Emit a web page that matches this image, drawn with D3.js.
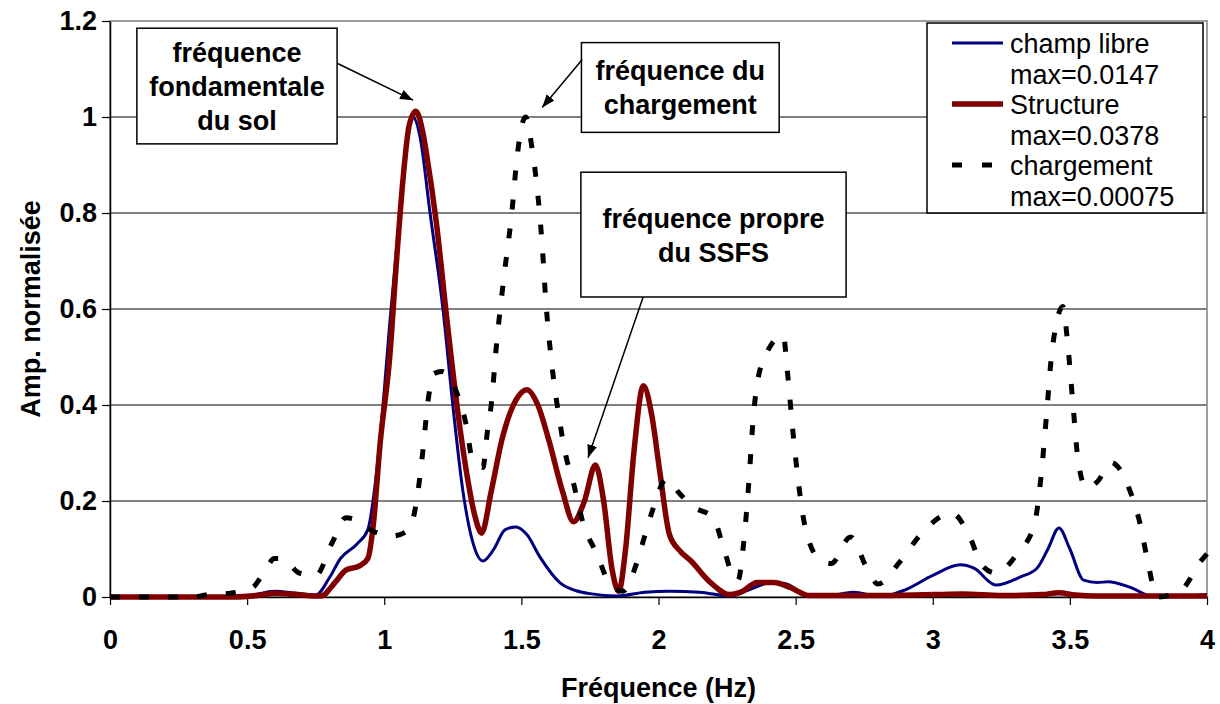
<!DOCTYPE html>
<html>
<head>
<meta charset="utf-8">
<script src="https://cdn.jsdelivr.net/npm/d3@7"></script>
<style>
    html, body { margin: 0; padding: 0; background: #ffffff; }
    svg text { font-family: 'Liberation Sans', Arial, sans-serif; fill: #000000; }
</style>
</head>
<body>
<svg id="spectrum-chart" width="1220" height="704"></svg>
<script>
/**
 * Tick values of both axes
 */
const xTicks = [0, 0.5, 1, 1.5, 2, 2.5, 3, 3.5, 4];
const yTicks = [0, 0.2, 0.4, 0.6, 0.8, 1, 1.2];

/**
 * Series names, as shown in the legend
 */
const seriesNames = ['champ libre', 'Structure', 'chargement'];
const seriesMax = ['max=0.0147', 'max=0.0378', 'max=0.00075'];

/**
 * champ libre (free field) - frequency (Hz) / normalised amplitude
 */
const champLibreFreq = [0, 0.4, 0.5, 0.6, 0.68, 0.75, 0.8, 0.84, 0.9, 0.94, 0.97, 1.0, 1.02, 1.057, 1.08, 1.105,
    1.13, 1.167, 1.214, 1.25, 1.287, 1.32, 1.36, 1.4, 1.44, 1.48, 1.52, 1.568, 1.64, 1.7, 1.75, 1.85, 1.95, 2.04,
    2.15, 2.26, 2.33, 2.41, 2.46, 2.55, 2.62, 2.71, 2.81, 2.9, 3.0, 3.1, 3.15, 3.23, 3.32, 3.38, 3.42, 3.46, 3.5,
    3.55, 3.6, 3.64, 3.72, 3.8, 3.9, 4.0];
const champLibreAmp = [0, 0, 0.002, 0.012, 0.008, 0.004, 0.04, 0.08, 0.11, 0.14, 0.25, 0.43, 0.57, 0.8, 0.93, 1.0,
    0.96, 0.8, 0.6, 0.4, 0.22, 0.12, 0.075, 0.1, 0.14, 0.146, 0.13, 0.083, 0.03, 0.013, 0.007, 0.002, 0.01, 0.012,
    0.01, 0.002, 0.015, 0.03, 0.028, 0.003, 0.003, 0.01, 0.001, 0.015, 0.045, 0.067, 0.06, 0.025, 0.042, 0.06, 0.1,
    0.144, 0.1, 0.035, 0.03, 0.032, 0.02, 0.002, 0.001, 0.005];

/**
 * Structure - frequency (Hz) / normalised amplitude
 */
const structureFreq = [0, 0.45, 0.55, 0.6, 0.68, 0.77, 0.82, 0.86, 0.91, 0.94, 0.96, 0.985, 1.02, 1.046, 1.07, 1.09,
    1.115, 1.14, 1.155, 1.19, 1.23, 1.265, 1.3, 1.33, 1.355, 1.39, 1.43, 1.48, 1.52, 1.56, 1.6, 1.65, 1.69, 1.73,
    1.77, 1.8, 1.83, 1.855, 1.88, 1.91, 1.945, 1.975, 2.005, 2.04, 2.08, 2.115, 2.19, 2.26, 2.3, 2.36, 2.42, 2.48,
    2.55, 2.8, 3.0, 3.11, 3.25, 3.4, 3.46, 3.52, 3.6, 4.0];
const structureAmp = [0, 0, 0.004, 0.008, 0.005, 0.002, 0.03, 0.056, 0.065, 0.08, 0.15, 0.32, 0.5, 0.71, 0.88, 0.98,
    1.012, 0.97, 0.92, 0.78, 0.57, 0.4, 0.26, 0.17, 0.133, 0.22, 0.33, 0.41, 0.432, 0.4, 0.327, 0.22, 0.157, 0.2,
    0.275, 0.2, 0.06, 0.012, 0.1, 0.3, 0.44, 0.38, 0.26, 0.13, 0.095, 0.077, 0.03, 0.005, 0.01, 0.03, 0.03, 0.02,
    0.003, 0.003, 0.005, 0.006, 0.003, 0.005, 0.009, 0.004, 0.002, 0.002];

/**
 * chargement (loading) - frequency (Hz) / normalised amplitude
 */
const chargementFreq = [0, 0.3, 0.35, 0.44, 0.52, 0.56, 0.6, 0.63, 0.69, 0.75, 0.81, 0.86, 0.9, 0.95, 1.03, 1.09,
    1.123, 1.14, 1.16, 1.18, 1.21, 1.265, 1.3, 1.32, 1.36, 1.375, 1.39, 1.41, 1.435, 1.465, 1.485, 1.515, 1.54,
    1.556, 1.575, 1.59, 1.61, 1.64, 1.66, 1.69, 1.725, 1.775, 1.82, 1.87, 1.92, 1.945, 1.975, 2.03, 2.07, 2.12,
    2.2, 2.235, 2.275, 2.29, 2.31, 2.33, 2.345, 2.36, 2.4, 2.455, 2.47, 2.49, 2.515, 2.535, 2.59, 2.63, 2.7, 2.76,
    2.8, 2.88, 2.96, 3.07, 3.135, 3.18, 3.23, 3.31, 3.37, 3.395, 3.415, 3.434, 3.475, 3.49, 3.51, 3.53, 3.56, 3.6,
    3.65, 3.72, 3.757, 3.78, 3.82, 3.91, 3.975, 4.0];
const chargementAmp = [0, 0, 0.004, 0.008, 0.02, 0.05, 0.08, 0.08, 0.05, 0.045, 0.113, 0.165, 0.16, 0.14, 0.127,
    0.14, 0.22, 0.3, 0.41, 0.465, 0.47, 0.425, 0.355, 0.29, 0.27, 0.34, 0.4, 0.53, 0.66, 0.8, 0.92, 1.0, 0.93, 0.86,
    0.74, 0.61, 0.49, 0.365, 0.3, 0.237, 0.154, 0.09, 0.03, 0.012, 0.07, 0.118, 0.175, 0.246, 0.22, 0.19, 0.165,
    0.107, 0.04, 0.035, 0.11, 0.244, 0.37, 0.445, 0.515, 0.545, 0.47, 0.345, 0.217, 0.145, 0.077, 0.07, 0.125, 0.06,
    0.027, 0.073, 0.133, 0.175, 0.125, 0.066, 0.05, 0.092, 0.15, 0.252, 0.38, 0.508, 0.605, 0.54, 0.41, 0.285,
    0.227, 0.24, 0.28, 0.22, 0.15, 0.085, 0, 0.017, 0.073, 0.09];

/**
 * Annotations: text lines, box corners and arrow (from, to) in data coordinates
 */
const noteLines = [
    ['fréquence', 'fondamentale', 'du sol'],
    ['fréquence du', 'chargement'],
    ['fréquence propre', 'du SSFS']
];
const noteBoxes = [
    [0.098, 1.185, 0.828, 0.944],
    [1.719, 1.155, 2.44, 0.968],
    [1.717, 0.885, 2.684, 0.625]
];
const noteArrows = [
    [[0.828, 1.112], [1.105, 1.035]],
    [[1.722, 1.12], [1.576, 1.02]],
    [[1.944, 0.625], [1.743, 0.29]]
];

const font = "'Liberation Sans', Arial, sans-serif";
const fontSize = 27;

const layout = {top: 21, right: 13, bottom: 107, left: 110, width: 1220, height: 704};

function drawChart(svg) {
    svg.selectAll('*').remove();
    const w = layout.width - layout.left - layout.right;
    const h = layout.height - layout.top - layout.bottom;
    const chart = svg.append('g').attr('transform', `translate(${layout.left}, ${layout.top})`);

    const xScale = d3.scaleLinear().domain([0, 4]).range([0, w]);
    const yScale = d3.scaleLinear().domain([0, 1.2]).range([h, 0]);

    // horizontal gridlines
    chart.append('g')
        .selectAll('line')
        .data(yTicks.filter((t) => t > 0 && t < 1.2))
        .join('line')
        .attr('x1', 0)
        .attr('x2', w)
        .attr('y1', (d) => yScale(d))
        .attr('y2', (d) => yScale(d))
        .attr('stroke', '#000000')
        .attr('stroke-width', 1);

    // plot area border
    chart.append('rect')
        .attr('x', 0)
        .attr('y', 0)
        .attr('width', w)
        .attr('height', h)
        .attr('fill', 'none')
        .attr('stroke', '#808080')
        .attr('stroke-width', 1.5);

    // axes
    const xAxis = d3.axisBottom(xScale).tickValues(xTicks).tickSize(8).tickSizeOuter(0).tickPadding(25)
        .tickFormat((t) => `${t}`);
    const yAxis = d3.axisLeft(yScale).tickValues(yTicks).tickSize(8).tickSizeOuter(0).tickPadding(5)
        .tickFormat((t) => `${t}`);
    const gx = chart.append('g').attr('transform', `translate(0, ${h})`).call(xAxis);
    const gy = chart.append('g').call(yAxis);
    [gx, gy].forEach((g) => {
        g.select('.domain').attr('stroke', '#000000').attr('stroke-width', 1.5);
        g.selectAll('.tick line').attr('stroke', '#000000').attr('stroke-width', 1.2);
        g.selectAll('.tick text')
            .attr('font-family', font)
            .attr('font-size', fontSize)
            .attr('font-weight', 'bold')
            .attr('fill', '#000000');
    });

    // axis titles
    chart.append('text')
        .attr('x', w / 2)
        .attr('y', h + 100)
        .attr('text-anchor', 'middle')
        .attr('font-size', fontSize)
        .attr('font-weight', 'bold')
        .text('Fréquence (Hz)');
    chart.append('text')
        .attr('transform', `translate(${-70}, ${h / 2}) rotate(-90)`)
        .attr('text-anchor', 'middle')
        .attr('font-size', fontSize)
        .attr('font-weight', 'bold')
        .text('Amp. normalisée');

    const line = d3.line()
        .x((d) => xScale(d[0]))
        .y((d) => yScale(d[1]))
        .curve(d3.curveMonotoneX);

    const series = [
        {freq: champLibreFreq, amp: champLibreAmp, color: '#000080', width: 3, dash: null},
        {freq: structureFreq, amp: structureAmp, color: '#800000', width: 5.5, dash: null},
        {freq: chargementFreq, amp: chargementAmp, color: '#000000', width: 5, dash: '10,19'}
    ];

    chart.append('g')
        .selectAll('path')
        .data(series)
        .join('path')
        .attr('fill', 'none')
        .attr('stroke', (s) => s.color)
        .attr('stroke-width', (s) => s.width)
        .attr('stroke-dasharray', (s) => s.dash)
        .attr('stroke-linejoin', 'round')
        .attr('d', (s) => line(s.freq.map((f, i) => [f, s.amp[i]])));

    // annotations
    svg.append('defs').append('marker')
        .attr('id', 'arrow-head')
        .attr('viewBox', '0 0 10 10')
        .attr('refX', 10)
        .attr('refY', 5)
        .attr('markerWidth', 13)
        .attr('markerHeight', 10)
        .attr('markerUnits', 'userSpaceOnUse')
        .attr('orient', 'auto')
        .attr('preserveAspectRatio', 'none')
        .append('path')
        .attr('d', 'M0,0 L10,5 L0,10 Z')
        .attr('fill', '#000000');

    noteBoxes.forEach((b, i) => {
        const x0 = xScale(b[0]);
        const y0 = yScale(b[1]);
        const bw = xScale(b[2]) - x0;
        const bh = yScale(b[3]) - y0;
        chart.append('rect')
            .attr('x', x0)
            .attr('y', y0)
            .attr('width', bw)
            .attr('height', bh)
            .attr('fill', '#ffffff')
            .attr('stroke', '#000000')
            .attr('stroke-width', 1.5);
        const lines = noteLines[i];
        const lineH = 34;
        const first = y0 + bh / 2 - (lines.length - 1) * lineH / 2 + 10;
        chart.append('text')
            .attr('text-anchor', 'middle')
            .attr('font-size', fontSize)
            .attr('font-weight', 'bold')
            .selectAll('tspan')
            .data(lines)
            .join('tspan')
            .attr('x', x0 + bw / 2)
            .attr('y', (d, j) => first + j * lineH)
            .text((d) => d);
        const a = noteArrows[i];
        chart.append('line')
            .attr('x1', xScale(a[0][0]))
            .attr('y1', yScale(a[0][1]))
            .attr('x2', xScale(a[1][0]))
            .attr('y2', yScale(a[1][1]))
            .attr('stroke', '#000000')
            .attr('stroke-width', 1.5)
            .attr('marker-end', 'url(#arrow-head)');
    });

    // legend
    const legend = svg.append('g').attr('transform', 'translate(927, 23)');
    legend.append('rect')
        .attr('width', 276)
        .attr('height', 190)
        .attr('fill', '#ffffff')
        .attr('stroke', '#000000')
        .attr('stroke-width', 1.5);
    series.forEach((s, i) => {
        const y = 20 + i * 61;
        legend.append('line')
            .attr('x1', 25)
            .attr('x2', 76)
            .attr('y1', y)
            .attr('y2', y)
            .attr('stroke', s.color)
            .attr('stroke-width', s.width)
            .attr('stroke-dasharray', s.dash ? '10,20' : null);
        legend.append('text')
            .attr('font-size', fontSize)
            .selectAll('tspan')
            .data([seriesNames[i], seriesMax[i]])
            .join('tspan')
            .attr('x', 83)
            .attr('y', (d, j) => y + 10 + j * 31)
            .text((d) => d);
    });
}

window.addEventListener('DOMContentLoaded', () => {
    drawChart(d3.select('#spectrum-chart'));
});
</script>
</body>
</html>
